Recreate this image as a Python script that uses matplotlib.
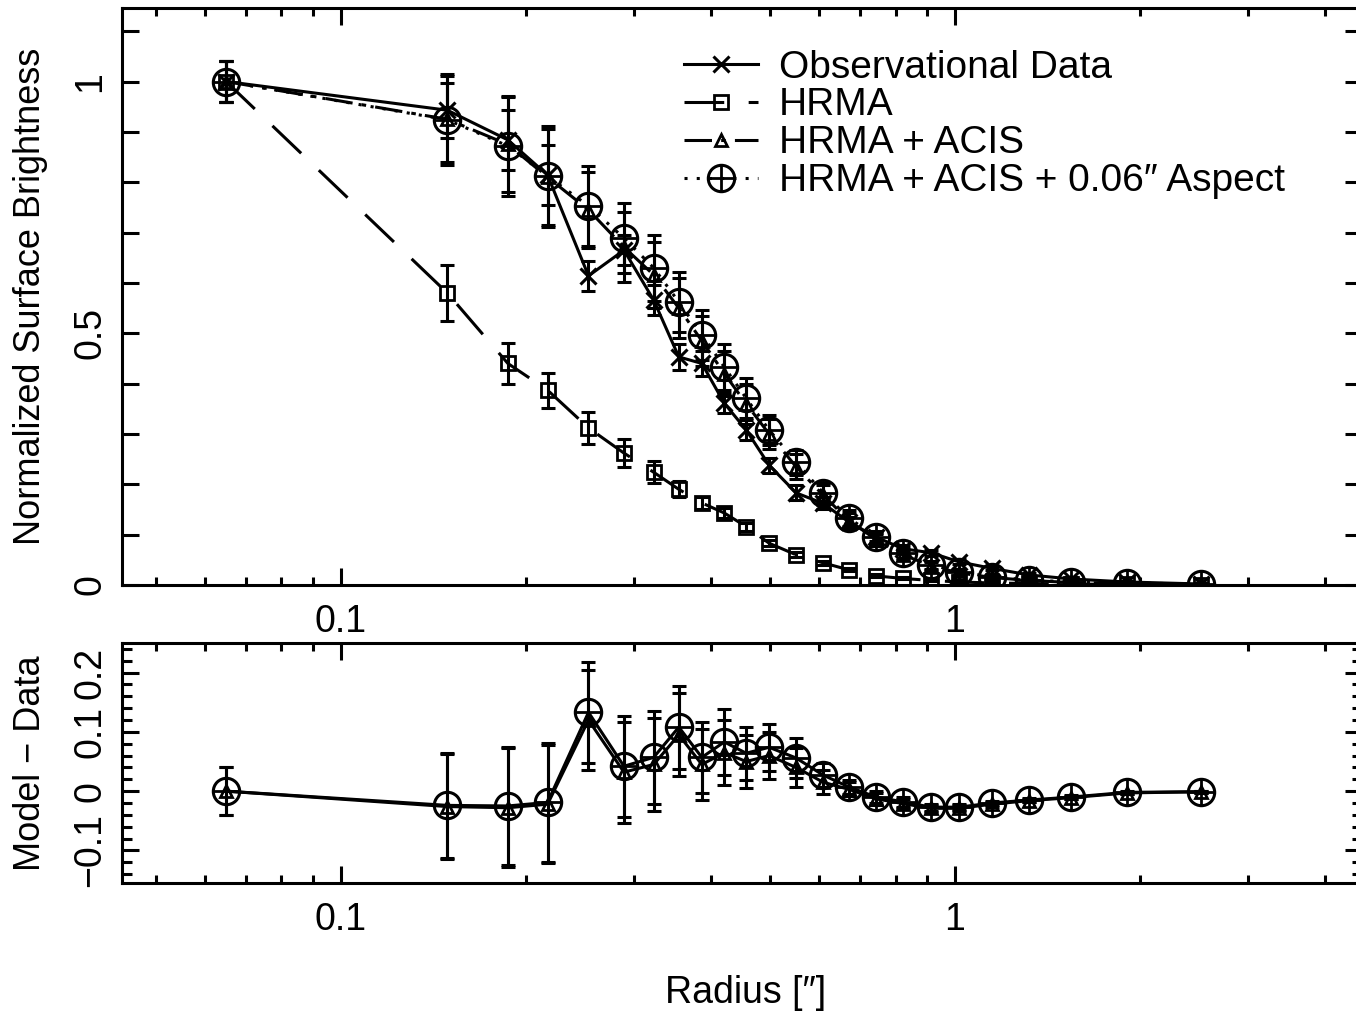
import numpy as np
import matplotlib
matplotlib.use("Agg")
from matplotlib import pyplot as plt
from matplotlib.ticker import MultipleLocator, NullFormatter

plt.rcParams['font.family'] = ['Liberation Sans', 'DejaVu Sans']

# radii of the bins (arcsec)
radius = [0.065, 0.149, 0.187, 0.217, 0.253, 0.289, 0.323, 0.355, 0.387, 0.421,
          0.457, 0.498, 0.551, 0.610, 0.672, 0.744, 0.823, 0.914, 1.015, 1.149,
          1.32, 1.545, 1.905, 2.516]

# observational data
obs = [1.0, 0.943, 0.884, 0.814, 0.614, 0.665, 0.566, 0.453, 0.44, 0.361,
       0.308, 0.238, 0.183, 0.162, 0.125, 0.095, 0.072, 0.064, 0.046, 0.033,
       0.02, 0.012, 0.006, 0.002]
obs_err = [0.04, 0.055, 0.06, 0.06, 0.03, 0.03, 0.03, 0.025, 0.025, 0.02,
           0.02, 0.015, 0.015, 0.012, 0.01, 0.008, 0.007, 0.006, 0.005, 0.004,
           0.003, 0.003, 0.002, 0.002]

# HRMA only
hrma = [1.0, 0.58, 0.44, 0.387, 0.312, 0.262, 0.224, 0.19, 0.163, 0.143,
        0.116, 0.083, 0.06, 0.044, 0.03, 0.018, 0.013, 0.009, 0.006, 0.004,
        0.003, 0.002, 0.001, 0.0005]
hrma_err = [0.04, 0.055, 0.04, 0.035, 0.032, 0.028, 0.022, 0.016, 0.012, 0.01,
            0.008, 0.006, 0.005, 0.004, 0.003, 0.003, 0.002, 0.002, 0.002, 0.001,
            0.001, 0.001, 0.001, 0.001]

# HRMA + ACIS
acis = [1.0, 0.925, 0.875, 0.81, 0.745, 0.671, 0.616, 0.55, 0.485, 0.42,
        0.36, 0.30, 0.235, 0.178, 0.128, 0.09, 0.06, 0.038, 0.024, 0.015,
        0.009, 0.005, 0.003, 0.002]
acis_err = [0.04, 0.085, 0.095, 0.095, 0.075, 0.07, 0.065, 0.06, 0.05, 0.045,
            0.04, 0.03, 0.025, 0.02, 0.015, 0.012, 0.01, 0.008, 0.006, 0.005,
            0.004, 0.003, 0.002, 0.002]

# HRMA + ACIS + 0.06" aspect
aspect = [1.0, 0.924, 0.872, 0.812, 0.753, 0.689, 0.63, 0.562, 0.497, 0.433,
          0.371, 0.308, 0.244, 0.183, 0.133, 0.095, 0.063, 0.04, 0.026, 0.016,
          0.01, 0.006, 0.004, 0.002]
aspect_err = [0.04, 0.09, 0.1, 0.1, 0.08, 0.07, 0.065, 0.06, 0.05, 0.045,
              0.04, 0.03, 0.025, 0.02, 0.015, 0.012, 0.01, 0.008, 0.006, 0.005,
              0.004, 0.003, 0.002, 0.002]

# residuals model - data
res_acis = [0.0, -0.026, -0.028, -0.022, 0.12, 0.032, 0.045, 0.095, 0.045, 0.065,
            0.05, 0.06, 0.04, 0.015, 0.003, -0.013, -0.021, -0.029, -0.029, -0.022,
            -0.016, -0.011, -0.003, -0.001]
res_aspect = [0.0, -0.024, -0.025, -0.019, 0.133, 0.042, 0.057, 0.108, 0.057, 0.083,
              0.064, 0.074, 0.056, 0.027, 0.007, -0.01, -0.018, -0.027, -0.027, -0.02,
              -0.015, -0.01, -0.002, -0.001]
res_err = [0.04, 0.088, 0.1, 0.1, 0.085, 0.085, 0.078, 0.07, 0.06, 0.055,
           0.045, 0.04, 0.033, 0.02, 0.012, 0.01, 0.008, 0.006, 0.005, 0.004,
           0.003, 0.003, 0.002, 0.002]

W, H = 1356, 1016
fig = plt.figure(figsize=(W / 100, H / 100), dpi=100)
ax1 = fig.add_axes([122 / W, 1 - 585 / H, (1362 - 122) / W, (585 - 8) / H])
ax2 = fig.add_axes([122 / W, 1 - 883 / H, (1362 - 122) / W, (883 - 643) / H])

lw = 2.2
ebkw = dict(fmt='none', ecolor='k', elinewidth=lw, capsize=5, capthick=lw)
dashdot = (9, 3, 1.5, 3)

# --- top panel
ax1.errorbar(radius, hrma, yerr=hrma_err, **ebkw)
ax1.errorbar(radius, obs, yerr=obs_err, **ebkw)
ax1.errorbar(radius, acis, yerr=acis_err, **ebkw)
ax1.errorbar(radius, aspect, yerr=aspect_err, **ebkw)

h_obs, = ax1.plot(radius, obs, 'k-', lw=lw, marker='x', ms=11, mew=lw)
h_hrma, = ax1.plot(radius, hrma, color='k', lw=lw, dashes=(13, 8),
                   marker='s', ms=10, mfc='none', mew=2)
h_acis, = ax1.plot(radius, acis, color='k', lw=lw, dashes=dashdot,
                   marker='^', ms=9, mfc='none', mew=2)
h_asp, = ax1.plot(radius, aspect, color='k', lw=lw, dashes=(1, 3),
                  marker='o', ms=19, mfc='none', mew=lw)
h_asp2, = ax1.plot(radius, aspect, color='k', ls='none', marker='+', ms=19, mew=2)

ax1.legend([h_obs, h_hrma, h_acis, (h_asp, h_asp2)],
           ['Observational Data', 'HRMA', 'HRMA + ACIS',
            'HRMA + ACIS + 0.06\u2033 Aspect'],
           loc='upper left', bbox_to_anchor=(0.453, 0.928), frameon=False,
           fontsize=28, handlelength=1.9, handletextpad=0.55, labelspacing=0.05,
           borderpad=0, borderaxespad=0, numpoints=1)

ax1.set_ylim(0, 1.146)
ax1.set_yticks([0, 0.5, 1], ['0', '0.5', '1'])
ax1.yaxis.set_minor_locator(MultipleLocator(0.1))
ax1.set_ylabel('Normalized Surface Brightness', fontsize=26)
ax1.yaxis.set_label_coords(-0.06, 0.5)

# --- bottom panel
ax2.errorbar(radius, res_acis, yerr=res_err, **ebkw)
ax2.errorbar(radius, res_aspect, yerr=res_err, **ebkw)
ax2.plot(radius, res_acis, 'k-', lw=lw, marker='^', ms=9, mfc='none', mew=2)
ax2.plot(radius, res_aspect, 'k-', lw=lw, marker='o', ms=19, mfc='none', mew=lw)
ax2.plot(radius, res_aspect, color='k', ls='none', marker='+', ms=19, mew=2)

ax2.set_ylim(-0.155, 0.25)
ax2.set_yticks([-0.1, 0, 0.1, 0.2], ['\u22120.1', '0', '0.1', '0.2'])
ax2.yaxis.set_minor_locator(MultipleLocator(0.02))
ax2.set_ylabel('Model \u2212 Data', fontsize=26)
ax2.yaxis.set_label_coords(-0.06, 0.5)

for ax in (ax1, ax2):
    ax.set_xscale('log')
    ax.set_xlim(0.044, 4.6)
    ax.set_xticks([0.1, 1], ['0.1', '1'])
    ax.xaxis.set_minor_formatter(NullFormatter())
    for s in ax.spines.values():
        s.set_linewidth(lw)
    ax.tick_params(which='both', direction='in', top=True, right=True,
                   width=lw, labelsize=27)
    ax.tick_params(axis='x', which='major', length=12, pad=14)
    ax.tick_params(axis='x', which='minor', length=6)
    ax.tick_params(axis='y', which='major', length=12, pad=10, labelrotation=90)
    for lbl in ax.get_yticklabels():
        lbl.set_va('center')
ax1.tick_params(axis='y', which='minor', length=12)
ax2.tick_params(axis='y', which='minor', length=7)

fig.text(746 / W, 1 - 993 / H, 'Radius [\u2033]', fontsize=27, ha='center', va='center')

fig.savefig('out.png', dpi=100)
